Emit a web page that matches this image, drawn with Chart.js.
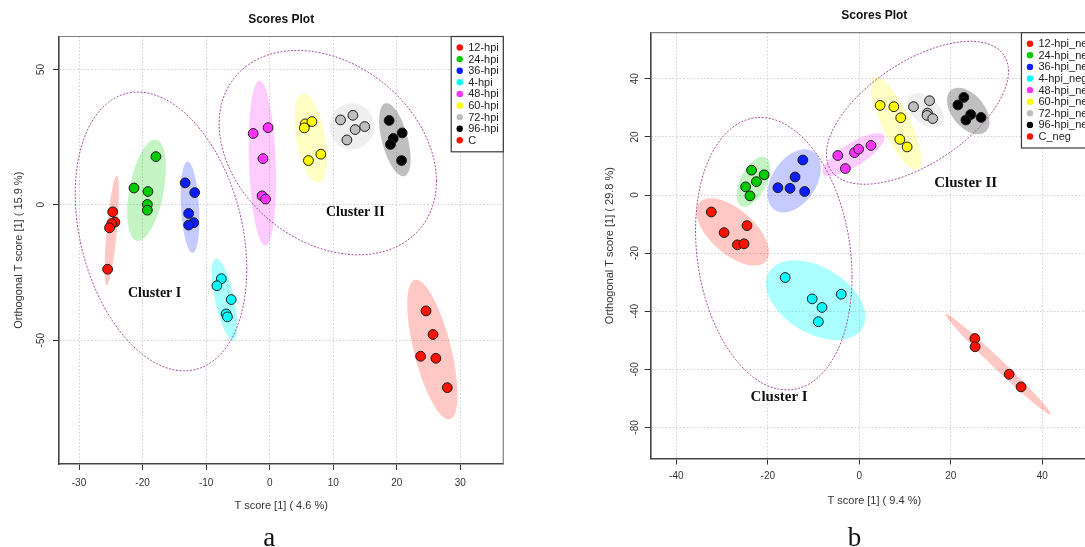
<!DOCTYPE html>
<html>
<head>
<meta charset="utf-8">
<title>Scores Plot</title>
<script src="https://cdn.jsdelivr.net/npm/chart.js@4.4.0/dist/chart.umd.min.js"></script>
<style>
  html, body { margin: 0; padding: 0; background: #fff; overflow: hidden; width: 1085px; height: 547px; }
  .panel { position: absolute; top: 0; }
  #panelA { left: 0; width: 560px; height: 547px; }
  #panelB { left: 560px; width: 580px; height: 547px; }
</style>
</head>
<body>
<div class="panel" id="panelA"><canvas id="scoresA" width="560" height="547"></canvas></div>
<div class="panel" id="panelB"><canvas id="scoresB" width="580" height="547"></canvas></div>
<script>
// ---------- panel a : positive mode ----------
const groupsA = ['12-hpi', '24-hpi', '36-hpi', '4-hpi', '48-hpi', '60-hpi', '72-hpi', '96-hpi', 'C'];
// T score [1] per sample, one row per group
const tScoreA = [
  [-24.7, -24.35, -24.85, -25.2, -25.5],
  [-17.9, -21.35, -19.15, -19.25, -19.25],
  [-13.3, -11.8, -12.75, -11.95, -12.75],
  [-7.6, -8.3, -6.05, -6.85, -6.65],
  [-2.6, -0.25, -1.05, -1.2, -0.65],
  [5.6, 6.65, 5.45, 6.1, 8.05],
  [11.15, 13.1, 13.45, 14.95, 12.15],
  [18.8, 20.85, 19.45, 19.0, 20.75],
  [24.6, 25.7, 23.75, 26.15, 27.95]
];
// Orthogonal T score [1] per sample
const orthoScoreA = [
  [-2.6, -6.4, -6.9, -8.5, -23.8],
  [17.8, 6.2, 4.9, 0.15, -2.0],
  [8.1, 4.5, -3.2, -6.6, -7.5],
  [-27.3, -29.9, -35.0, -40.3, -41.4],
  [26.35, 28.5, 17.05, 3.3, 2.1],
  [29.9, 30.75, 28.4, 16.35, 18.7],
  [31.35, 33.05, 27.8, 28.9, 23.95],
  [31.15, 26.55, 24.5, 22.3, 16.35],
  [-39.2, -47.9, -55.95, -56.7, -67.55]
];
// confidence regions: [centre T, centre orthogonal, half-extent T, half-extent orthogonal, correlation]
const regionA = [
  [-24.85, -9.5, 1.12, 20.2, 0.70],
  [-19.37, 5.4, 3.04, 18.7, 0.44],
  [-12.53, -0.92, 1.47, 16.85, -0.26],
  [-7.1, -34.9, 2.0, 15.1, -0.65],
  [-1.15, 15.4, 2.15, 30.45, -0.21],
  [6.45, 24.65, 2.57, 16.5, -0.44],
  [12.93, 29.0, 3.53, 8.5, 0],
  [19.7, 24.05, 2.47, 13.5, -0.53],
  [25.6, -53.45, 3.95, 25.8, -0.65]
];
const clusterA = [
  [-17.1, -9.85, 13.5, 51.5, -0.27],
  [9.14, 19.28, 17.1, 37.75, -0.28]
];
const xTicksA = [-30, -20, -10, 0, 10, 20, 30];
const yTicksA = [-50, 0, 50];

// ---------- panel b : negative mode ----------
const groupsB = ['12-hpi_neg', '24-hpi_neg', '36-hpi_neg', '4-hpi_neg', '48-hpi_neg', '60-hpi_neg', '72-hpi_neg', '96-hpi_neg', 'C_neg'];
const tScoreB = [
  [-32.35, -29.55, -24.55, -26.65, -25.2],
  [-23.55, -20.8, -22.5, -24.85, -23.9],
  [-12.35, -14.05, -17.8, -15.15, -11.95],
  [-16.2, -10.3, -8.15, -3.95, -8.95],
  [-4.7, -3.05, -1.05, -0.15, 2.55],
  [4.55, 7.55, 9.05, 8.85, 10.45],
  [11.85, 15.35, 14.9, 14.8, 16.05],
  [22.85, 21.55, 24.35, 23.3, 26.6],
  [25.25, 25.3, 32.75, 35.35]
];
const orthoScoreB = [
  [-5.85, -12.95, -10.55, -17.15, -16.8],
  [8.55, 6.95, 4.6, 2.8, -0.3],
  [12.05, 6.2, 2.5, 2.3, 1.2],
  [-28.4, -35.75, -38.7, -34.15, -43.6],
  [13.6, 9.1, 14.6, 15.8, 17.05],
  [30.85, 30.4, 26.6, 19.15, 16.55],
  [30.4, 32.45, 28.2, 27.4, 26.3],
  [33.6, 31.0, 27.7, 25.8, 26.7],
  [-49.4, -52.25, -61.7, -66.05]
];
const regionB = [
  [-27.7, -12.7, 7.95, 11.6, -0.6],
  [-23.15, 4.58, 3.65, 8.6, 0.54],
  [-14.25, 4.86, 5.83, 10.87, 0.40],
  [-9.53, -36.2, 10.86, 13.7, -0.42],
  [-1.3, 13.9, 6.8, 7.4, 0.78],
  [8.04, 24.67, 5.55, 16.0, -0.79],
  [14.5, 29.1, 3.99, 5.9, -0.44],
  [23.8, 28.9, 4.65, 8.0, -0.46],
  [30.33, -58.22, 11.51, 17.32, -0.99]
];
const clusterB = [
  [-18.7, -20.2, 17.1, 46.9, -0.17],
  [12.7, 28.3, 19.9, 24.6, 0.58]
];
const xTicksB = [-40, -20, 0, 20, 40];
const yTicksB = [-80, -60, -40, -20, 0, 20, 40];

const clusterNames = ['Cluster I', 'Cluster II'];

// ---------- styling ----------
const pointColors = ['#ff1100', '#00cc00', '#0a1eff', '#00ffff', '#ff33ff', '#ffff00', '#bebebe', '#000000', '#ff1100'];
const regionFills = ['rgba(255,17,0,0.23)', 'rgba(0,204,0,0.23)', 'rgba(10,30,255,0.23)', 'rgba(0,255,255,0.33)',
                     'rgba(255,51,255,0.25)', 'rgba(255,255,0,0.23)', 'rgba(190,190,190,0.24)', 'rgba(0,0,0,0.25)', 'rgba(255,17,0,0.23)'];
const SANS = "'Liberation Sans', Arial, Helvetica, sans-serif";
const SERIF = "'Liberation Serif', 'Times New Roman', serif";
Chart.defaults.font.family = SANS;
Chart.defaults.color = '#333';

// trace an ellipse given in data units through the chart's scales
function ellipsePath(ctx, xs, ys, e) {
  const [cx, cy, ax, ay, r] = e;
  const k = Math.sqrt(Math.max(0, 1 - r * r));
  ctx.beginPath();
  for (let i = 0; i <= 144; i++) {
    const t = (i / 144) * Math.PI * 2;
    const x = cx + ax * Math.cos(t);
    const y = cy + ay * (r * Math.cos(t) + k * Math.sin(t));
    const px = xs.getPixelForValue(x), py = ys.getPixelForValue(y);
    if (i === 0) ctx.moveTo(px, py); else ctx.lineTo(px, py);
  }
  ctx.closePath();
}

const scoreDecor = {
  id: 'scoreDecor',
  beforeDatasetsDraw(chart, args, o) {
    const { ctx, chartArea: a, scales: { x, y } } = chart;
    ctx.save();
    // top and right edges of the plot box
    ctx.strokeStyle = '#808080';
    ctx.lineWidth = 1.2;
    ctx.beginPath();
    ctx.moveTo(a.left, a.top); ctx.lineTo(a.right, a.top); ctx.lineTo(a.right, a.bottom);
    ctx.stroke();
    ctx.beginPath();
    ctx.rect(a.left, a.top, a.right - a.left, a.bottom - a.top);
    ctx.clip();
    o.regions.forEach((e, i) => {
      ellipsePath(ctx, x, y, e);
      ctx.fillStyle = regionFills[i];
      ctx.fill();
    });
    ctx.strokeStyle = '#a24aa2';
    ctx.lineWidth = 1;
    ctx.setLineDash([2, 1.5]);
    o.clusters.forEach(e => { ellipsePath(ctx, x, y, e); ctx.stroke(); });
    ctx.restore();
  },
  afterDatasetsDraw(chart, args, o) {
    const { ctx, chartArea: a, scales: { x, y } } = chart;
    ctx.save();
    // cluster captions
    ctx.font = 'bold ' + o.clusterFont + 'px ' + SERIF;
    ctx.fillStyle = '#111';
    ctx.textAlign = 'center';
    ctx.textBaseline = 'middle';
    o.clusterAt.forEach((p, i) => {
      ctx.fillText(clusterNames[i], x.getPixelForValue(p[0]), y.getPixelForValue(p[1]));
    });
    // key in the top-right corner of the plot box
    ctx.font = '11px ' + SANS;
    const sets = chart.data.datasets;
    let w = 0;
    sets.forEach(d => { w = Math.max(w, ctx.measureText(d.label).width); });
    const boxW = 17 + w + 4.5;
    const boxH = 11 + (sets.length - 1) * 11.6 + 11.5;
    const left = a.right - boxW, top = a.top;
    ctx.fillStyle = '#fff';
    ctx.fillRect(left, top, boxW, boxH);
    ctx.strokeStyle = '#3a3a3a';
    ctx.lineWidth = 1.2;
    ctx.strokeRect(left, top, boxW, boxH);
    ctx.textAlign = 'left';
    sets.forEach((d, i) => {
      const yy = top + 11 + i * 11.6;
      ctx.fillStyle = d.backgroundColor;
      ctx.beginPath();
      ctx.arc(left + 8.5, yy, 3.2, 0, Math.PI * 2);
      ctx.fill();
      ctx.fillStyle = '#222';
      ctx.fillText(d.label, left + 17, yy + 0.5);
    });
    ctx.restore();
  },
  afterDraw(chart, args, o) {
    const ctx = chart.ctx;
    ctx.save();
    ctx.font = '27px ' + SERIF;
    ctx.fillStyle = '#111';
    ctx.textAlign = 'center';
    ctx.textBaseline = 'alphabetic';
    ctx.fillText(o.caption, o.captionX, 546);
    ctx.restore();
  }
};

function buildPanel(id, p) {
  const datasets = p.groups.map((g, i) => ({
    label: g,
    data: p.t[i].map((v, j) => ({ x: v, y: p.o[i][j] })),
    backgroundColor: pointColors[i],
    borderColor: '#1a1a1a',
    borderWidth: 1,
    pointRadius: 4.9,
    pointHoverRadius: 4.9
  }));
  return new Chart(document.getElementById(id), {
    type: 'scatter',
    data: { datasets },
    plugins: [scoreDecor],
    options: {
      responsive: false,
      animation: false,
      devicePixelRatio: 1,
      events: [],
      layout: { padding: { left: 0, top: 0, right: p.padRight, bottom: p.padBottom } },
      plugins: {
        legend: { display: false },
        tooltip: { enabled: false },
        title: {
          display: true, text: 'Scores Plot', fullSize: false, color: '#111',
          font: { size: 12, weight: 'bold' }, padding: { top: p.titleTop, bottom: p.titleBottom }
        },
        scoreDecor: {
          regions: p.regions, clusters: p.clusters, clusterAt: p.clusterAt,
          clusterFont: p.clusterFont, caption: p.caption, captionX: p.captionX
        }
      },
      scales: {
        x: {
          type: 'linear', position: 'bottom', min: p.xMin, max: p.xMax,
          afterBuildTicks: s => { s.ticks = p.xTicks.map(v => ({ value: v })); },
          afterFit: s => { s.height = 60; },
          ticks: { font: { size: 10 }, color: '#333', padding: p.xLabelPad, callback: v => String(v) },
          grid: { color: '#cfcfcf', lineWidth: 1, tickLength: 6, tickColor: '#333', tickWidth: 1 },
          border: { display: true, color: '#444', width: 1.6, dash: [1.5, 2] },
          title: { display: true, text: p.xTitle, color: '#333', font: { size: 11 }, padding: { top: 0, bottom: p.xTitlePad } }
        },
        y: {
          type: 'linear', position: 'left', min: p.yMin, max: p.yMax,
          afterBuildTicks: s => { s.ticks = p.yTicks.map(v => ({ value: v })); },
          afterFit: s => { s.width = p.yWidth; },
          ticks: { font: { size: 10 }, color: '#333', padding: p.yLabelPad, minRotation: 90, maxRotation: 90,
                   crossAlign: 'center', callback: v => String(v) },
          grid: { color: '#cfcfcf', lineWidth: 1, tickLength: 6, tickColor: '#333', tickWidth: 1 },
          border: { display: true, color: '#444', width: 1.6, dash: [1.5, 2] },
          title: { display: true, text: p.yTitle, color: '#333', font: { size: 11 }, padding: { top: p.yTitlePad, bottom: 0 } }
        }
      }
    }
  });
}

buildPanel('scoresA', {
  groups: groupsA, t: tScoreA, o: orthoScoreA, regions: regionA, clusters: clusterA,
  clusterAt: [[-18.1, -32.7], [13.47, -2.92]], clusterFont: 14,
  xTicks: xTicksA, yTicks: yTicksA,
  xMin: -33.15, xMax: 36.76, yMin: -95.75, yMax: 62.17,
  xTitle: 'T score [1] ( 4.6 %)', yTitle: 'Orthogonal T score [1] ( 15.9 %)',
  padRight: 56.7, padBottom: 23, titleTop: 12.1, titleBottom: 10,
  xLabelPad: 7.3, xTitlePad: 11.4, yWidth: 59, yLabelPad: 4.1, yTitlePad: 12.4,
  caption: 'a', captionX: 269.3
});

buildPanel('scoresB', {
  groups: groupsB, t: tScoreB, o: orthoScoreB, regions: regionB, clusters: clusterB,
  clusterAt: [[-17.53, -69.64], [23.26, 4.03]], clusterFont: 15,
  xTicks: xTicksB, yTicks: yTicksB,
  xMin: -45.6, xMax: 52.17, yMin: -90.7, yMax: 55.87,
  xTitle: 'T score [1] ( 9.4 %)', yTitle: 'Orthogonal T score [1] ( 29.8 %)',
  padRight: 42, padBottom: 28.5, titleTop: 8.1, titleBottom: 10.2,
  xLabelPad: 6.2, xTitlePad: 10.9, yWidth: 90.7, yLabelPad: 2.5, yTitlePad: 43.4,
  caption: 'b', captionX: 294.6
});
</script>
</body>
</html>
